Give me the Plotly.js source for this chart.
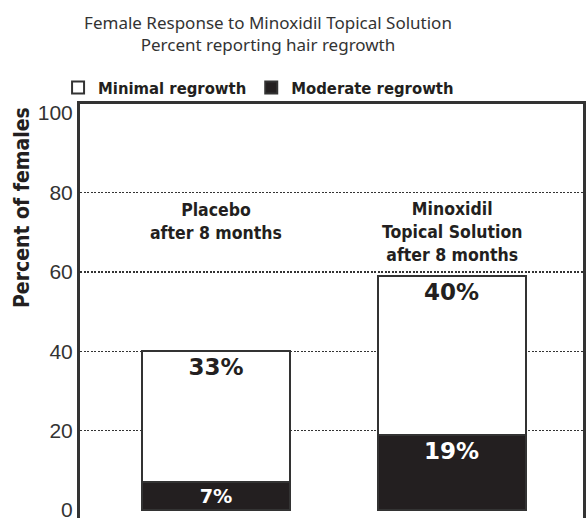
<!DOCTYPE html>
<html>
<head>
<meta charset="utf-8">
<script src="https://cdn.plot.ly/plotly-3.0.1.min.js"></script>
<style>
html,body{margin:0;padding:0;background:#fff;overflow:hidden;}
#chart{width:586px;height:518px;}
</style>
</head>
<body>
<div id="chart"></div>
<script>
// Data
const groups = ["Placebo", "Minoxidil"];
const groupLabels = ["Placebo<br>after 8 months", "Minoxidil<br>Topical Solution<br>after 8 months"];
const moderate = [7, 19];
const minimal = [33, 40];
const seriesNames = ["Minimal regrowth", "Moderate regrowth"];
const yTicks = [0, 20, 40, 60, 80, 100];
const gridTicks = [20, 40, 60, 80];
const titleLines = ["Female Response to Minoxidil Topical Solution", "Percent reporting hair regrowth"];
const yTitle = "Percent of females";

const narrow = "DejaVu Sans Condensed, Liberation Sans Narrow, Arial Narrow, sans-serif";
const yRange = [-2.0, 102.3];

const traces = [
  {
    type: "bar", name: seriesNames[1], x: groups, y: moderate,
    marker: {color: "#231f20", line: {color: "#333", width: 2}},
    texttemplate: "<b>%{y}%</b>", textposition: "inside", insidetextanchor: "end",
    textfont: {family: "DejaVu Sans, sans-serif", size: 23, color: "#ffffff"},
    width: 0.628, hoverinfo: "none", legendrank: 2
  },
  {
    type: "bar", name: seriesNames[0], x: groups, y: minimal,
    marker: {color: "#ffffff", line: {color: "#333", width: 2}},
    texttemplate: "<b>%{y}%</b>", textposition: "inside", insidetextanchor: "end",
    textfont: {family: "DejaVu Sans, sans-serif", size: 23, color: "#231f20"},
    width: 0.628, hoverinfo: "none", legendrank: 1
  },
  // invisible trace to carry the dotted gridlines on an overlay axis
  {
    type: "scatter", x: [groups[0]], y: [gridTicks[0]], yaxis: "y2",
    mode: "markers", marker: {opacity: 0}, showlegend: false, hoverinfo: "none"
  }
];

const annYs = [72.6, 70.1];
const annotations = groupLabels.map((t, i) => ({
  x: groups[i], y: annYs[i], xref: "x", yref: "y", text: "<b>" + t + "</b>",
  showarrow: false, font: {family: narrow, size: 17.5, color: "#231f20"}, align: "center"
}));
annotations.push({
  x: (22 - 80) / (586 - 83), y: 1 - (208 - 104) / (518 - 104), xref: "paper", yref: "paper",
  xanchor: "center", yanchor: "middle",
  text: "<b>" + yTitle + "</b>",
  textangle: -90, showarrow: false, font: {family: narrow, size: 21, color: "#231f20"}
});

const layout = {
  width: 586, height: 518,
  paper_bgcolor: "#fff", plot_bgcolor: "rgba(0,0,0,0)",
  margin: {l: 80, r: 3, t: 104, b: 0},
  barmode: "stack",
  title: {
    text: titleLines.join("<br>"),
    font: {family: "Noto Sans, Open Sans, sans-serif", size: 17, color: "#333"},
    x: 268 / 586, xanchor: "center", xref: "container",
    y: 0.944, yanchor: "top", yref: "container"
  },
  showlegend: true,
  legend: {
    orientation: "h", x: 0.355, xanchor: "center", y: 0.997, yanchor: "bottom",
    font: {family: narrow, size: 16.5, color: "#231f20", weight: "bold"},
    traceorder: "normal", itemclick: false, bgcolor: "rgba(0,0,0,0)"
  },
  xaxis: {
    type: "category", range: [-0.5775, 1.558], side: "top",
    showline: true, linecolor: "#333", linewidth: 3,
    showticklabels: false, ticks: "", showgrid: false, zeroline: false, fixedrange: true
  },
  yaxis: {
    range: yRange, tickvals: yTicks, ticktext: yTicks.map(String),
    showline: true, mirror: true, linecolor: "#333", linewidth: 3,
    showgrid: false, zeroline: false, ticks: "", ticklabeloverflow: "allow",
    tickfont: {family: "Liberation Sans, Arial, sans-serif", size: 21, color: "#333"},
    fixedrange: true
  },
  yaxis2: {
    range: yRange, overlaying: "y", tickvals: gridTicks, showticklabels: false,
    showgrid: true, gridcolor: "#333", gridwidth: 1.5, griddash: "2px,1.5px",
    zeroline: false, ticks: "", showline: false, layer: "below traces", fixedrange: true
  },
  annotations: annotations
};

Plotly.newPlot("chart", traces, layout, {displayModeBar: false, staticPlot: true});
</script>
</body>
</html>
